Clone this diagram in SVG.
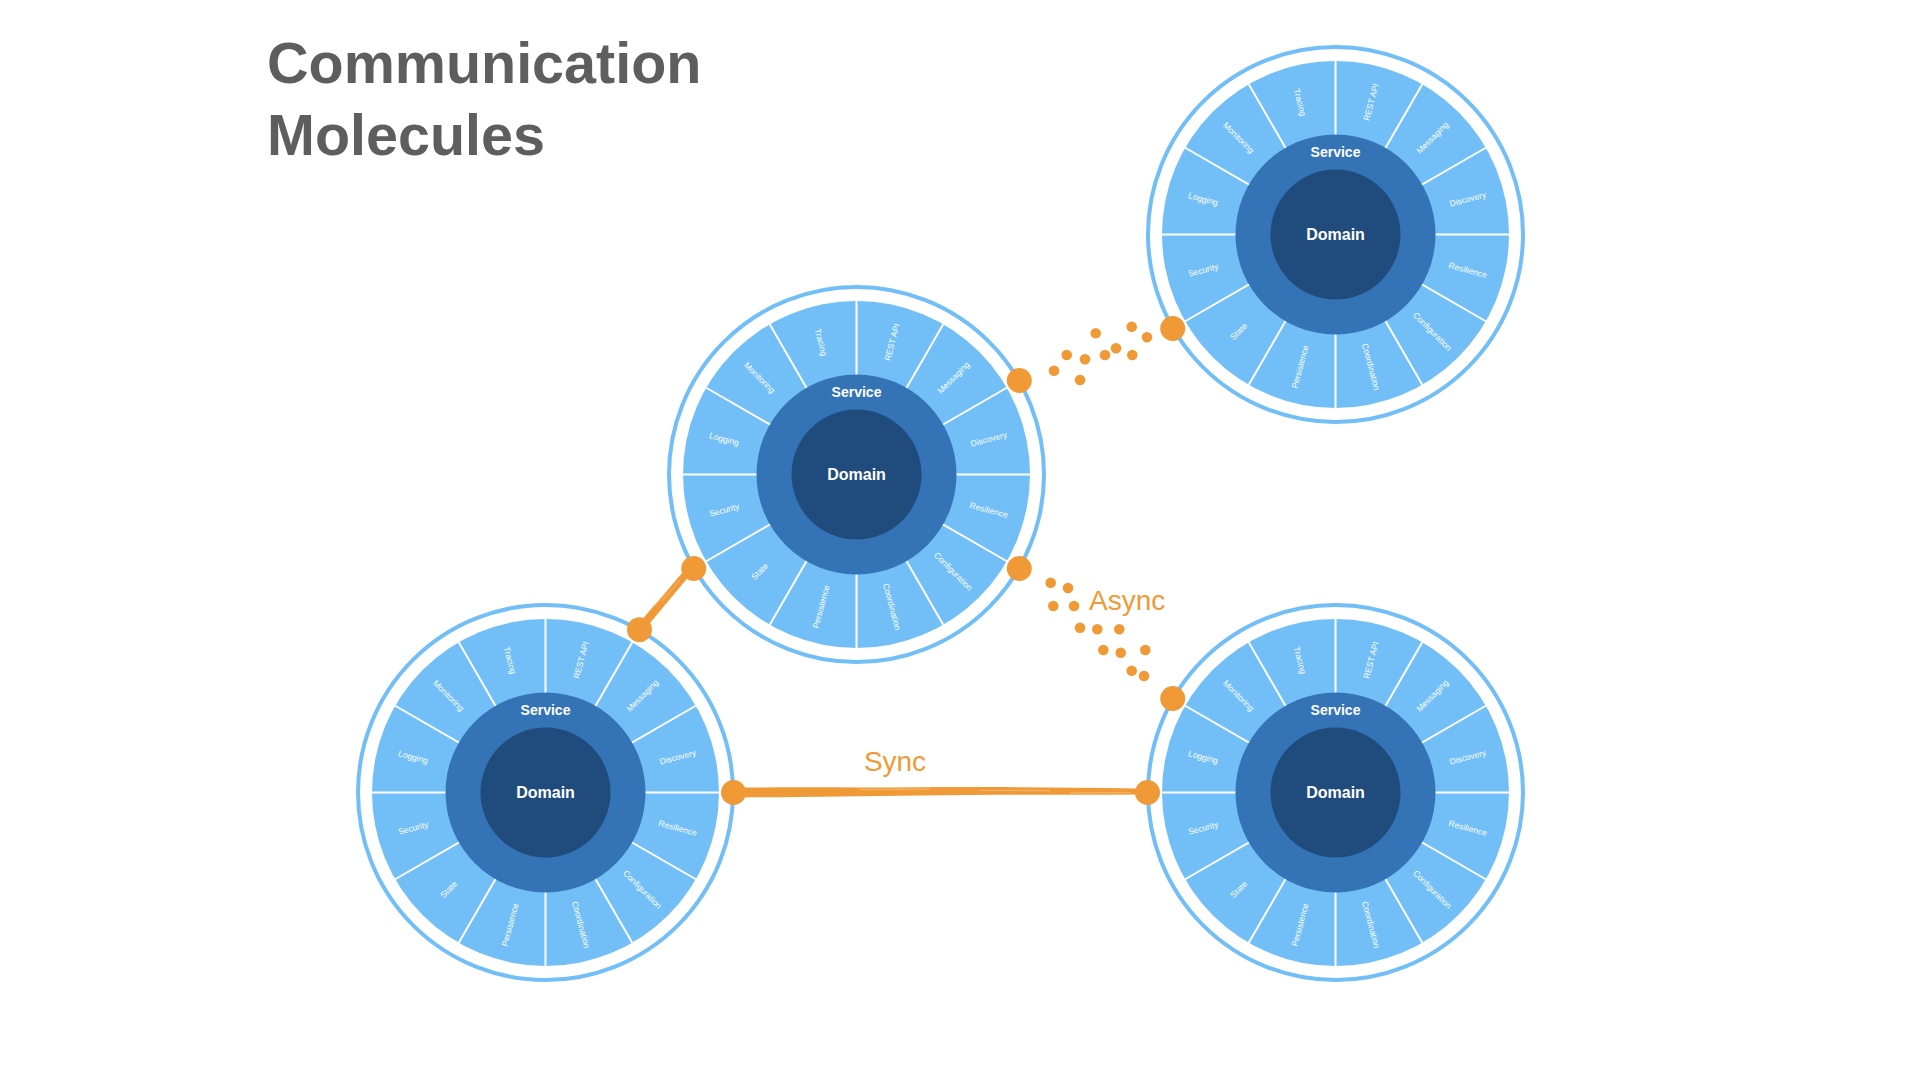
<svg xmlns="http://www.w3.org/2000/svg" width="1920" height="1080" viewBox="0 0 1920 1080">
<style>
.ring{fill:none;stroke:#72BEF7;stroke-width:4}
.seg{fill:#72BEF7}
.div line{stroke:#fff;stroke-width:2}
.svc{fill:#3473B5}
.dom{fill:#1F4C7D}
.lbl{font-family:"Liberation Sans",Arial,sans-serif;font-size:8.5px;fill:#fff;text-anchor:middle;dominant-baseline:central}
.svct{font-family:"Liberation Sans",Arial,sans-serif;font-weight:bold;font-size:14px;fill:#fff;text-anchor:middle}
.domt{font-family:"Liberation Sans",Arial,sans-serif;font-weight:bold;font-size:16px;fill:#fff;text-anchor:middle}
.title{font-family:"Liberation Sans",Arial,sans-serif;font-weight:bold;font-size:57.5px;fill:#5E5E5E}
.clbl{font-family:"Liberation Sans",Arial,sans-serif;font-size:28px;fill:#F09A37}
.dot{fill:#F09A37}
.brush{fill:#F09A37}
.streak{fill:none;stroke:#fff;stroke-width:0.6;opacity:0.5}
</style>
<rect width="1920" height="1080" fill="#fff"/>
<g id="title">
<text class="title" x="267" y="83">Communication</text>
<text class="title" x="267" y="155">Molecules</text>
</g>

<g id="molecule-center" transform="translate(856.5 474.5)">
<circle class="ring" r="187.5"/>
<circle class="seg" r="173.5"/>
<g class="div">
<line x1="-173.5" y1="0" x2="173.5" y2="0"/>
<line x1="0" y1="-173.5" x2="0" y2="173.5"/>
<line x1="-150.3" y1="-86.75" x2="150.3" y2="86.75"/>
<line x1="-150.3" y1="86.75" x2="150.3" y2="-86.75"/>
<line x1="-86.75" y1="-150.3" x2="86.75" y2="150.3"/>
<line x1="-86.75" y1="150.3" x2="86.75" y2="-150.3"/>
</g>
<circle class="svc" r="100"/>
<circle class="dom" r="65"/>
<text class="svct" y="-78">Service</text>
<text class="domt" y="5.7">Domain</text>
<text class="lbl" transform="translate(35.5 -132.3) rotate(-75)">REST API</text>
<text class="lbl" transform="translate(96.9 -96.9) rotate(-45)">Messaging</text>
<text class="lbl" transform="translate(132.3 -35.5) rotate(-15)">Discovery</text>
<text class="lbl" transform="translate(132.3 35.5) rotate(15)">Resilience</text>
<text class="lbl" transform="translate(96.9 96.9) rotate(45)">Configuration</text>
<text class="lbl" transform="translate(35.5 132.3) rotate(75)">Coordination</text>
<text class="lbl" transform="translate(-35.5 132.3) rotate(-75)">Persistence</text>
<text class="lbl" transform="translate(-96.9 96.9) rotate(-45)">State</text>
<text class="lbl" transform="translate(-132.3 35.5) rotate(-15)">Security</text>
<text class="lbl" transform="translate(-132.3 -35.5) rotate(15)">Logging</text>
<text class="lbl" transform="translate(-96.9 -96.9) rotate(45)">Monitoring</text>
<text class="lbl" transform="translate(-35.5 -132.3) rotate(75)">Tracing</text>
</g>

<g id="molecule-top-right" transform="translate(1335.5 234.5)">
<circle class="ring" r="187.5"/>
<circle class="seg" r="173.5"/>
<g class="div">
<line x1="-173.5" y1="0" x2="173.5" y2="0"/>
<line x1="0" y1="-173.5" x2="0" y2="173.5"/>
<line x1="-150.3" y1="-86.75" x2="150.3" y2="86.75"/>
<line x1="-150.3" y1="86.75" x2="150.3" y2="-86.75"/>
<line x1="-86.75" y1="-150.3" x2="86.75" y2="150.3"/>
<line x1="-86.75" y1="150.3" x2="86.75" y2="-150.3"/>
</g>
<circle class="svc" r="100"/>
<circle class="dom" r="65"/>
<text class="svct" y="-78">Service</text>
<text class="domt" y="5.7">Domain</text>
<text class="lbl" transform="translate(35.5 -132.3) rotate(-75)">REST API</text>
<text class="lbl" transform="translate(96.9 -96.9) rotate(-45)">Messaging</text>
<text class="lbl" transform="translate(132.3 -35.5) rotate(-15)">Discovery</text>
<text class="lbl" transform="translate(132.3 35.5) rotate(15)">Resilience</text>
<text class="lbl" transform="translate(96.9 96.9) rotate(45)">Configuration</text>
<text class="lbl" transform="translate(35.5 132.3) rotate(75)">Coordination</text>
<text class="lbl" transform="translate(-35.5 132.3) rotate(-75)">Persistence</text>
<text class="lbl" transform="translate(-96.9 96.9) rotate(-45)">State</text>
<text class="lbl" transform="translate(-132.3 35.5) rotate(-15)">Security</text>
<text class="lbl" transform="translate(-132.3 -35.5) rotate(15)">Logging</text>
<text class="lbl" transform="translate(-96.9 -96.9) rotate(45)">Monitoring</text>
<text class="lbl" transform="translate(-35.5 -132.3) rotate(75)">Tracing</text>
</g>

<g id="molecule-bottom-left" transform="translate(545.5 792.5)">
<circle class="ring" r="187.5"/>
<circle class="seg" r="173.5"/>
<g class="div">
<line x1="-173.5" y1="0" x2="173.5" y2="0"/>
<line x1="0" y1="-173.5" x2="0" y2="173.5"/>
<line x1="-150.3" y1="-86.75" x2="150.3" y2="86.75"/>
<line x1="-150.3" y1="86.75" x2="150.3" y2="-86.75"/>
<line x1="-86.75" y1="-150.3" x2="86.75" y2="150.3"/>
<line x1="-86.75" y1="150.3" x2="86.75" y2="-150.3"/>
</g>
<circle class="svc" r="100"/>
<circle class="dom" r="65"/>
<text class="svct" y="-78">Service</text>
<text class="domt" y="5.7">Domain</text>
<text class="lbl" transform="translate(35.5 -132.3) rotate(-75)">REST API</text>
<text class="lbl" transform="translate(96.9 -96.9) rotate(-45)">Messaging</text>
<text class="lbl" transform="translate(132.3 -35.5) rotate(-15)">Discovery</text>
<text class="lbl" transform="translate(132.3 35.5) rotate(15)">Resilience</text>
<text class="lbl" transform="translate(96.9 96.9) rotate(45)">Configuration</text>
<text class="lbl" transform="translate(35.5 132.3) rotate(75)">Coordination</text>
<text class="lbl" transform="translate(-35.5 132.3) rotate(-75)">Persistence</text>
<text class="lbl" transform="translate(-96.9 96.9) rotate(-45)">State</text>
<text class="lbl" transform="translate(-132.3 35.5) rotate(-15)">Security</text>
<text class="lbl" transform="translate(-132.3 -35.5) rotate(15)">Logging</text>
<text class="lbl" transform="translate(-96.9 -96.9) rotate(45)">Monitoring</text>
<text class="lbl" transform="translate(-35.5 -132.3) rotate(75)">Tracing</text>
</g>

<g id="molecule-bottom-right" transform="translate(1335.5 792.5)">
<circle class="ring" r="187.5"/>
<circle class="seg" r="173.5"/>
<g class="div">
<line x1="-173.5" y1="0" x2="173.5" y2="0"/>
<line x1="0" y1="-173.5" x2="0" y2="173.5"/>
<line x1="-150.3" y1="-86.75" x2="150.3" y2="86.75"/>
<line x1="-150.3" y1="86.75" x2="150.3" y2="-86.75"/>
<line x1="-86.75" y1="-150.3" x2="86.75" y2="150.3"/>
<line x1="-86.75" y1="150.3" x2="86.75" y2="-150.3"/>
</g>
<circle class="svc" r="100"/>
<circle class="dom" r="65"/>
<text class="svct" y="-78">Service</text>
<text class="domt" y="5.7">Domain</text>
<text class="lbl" transform="translate(35.5 -132.3) rotate(-75)">REST API</text>
<text class="lbl" transform="translate(96.9 -96.9) rotate(-45)">Messaging</text>
<text class="lbl" transform="translate(132.3 -35.5) rotate(-15)">Discovery</text>
<text class="lbl" transform="translate(132.3 35.5) rotate(15)">Resilience</text>
<text class="lbl" transform="translate(96.9 96.9) rotate(45)">Configuration</text>
<text class="lbl" transform="translate(35.5 132.3) rotate(75)">Coordination</text>
<text class="lbl" transform="translate(-35.5 132.3) rotate(-75)">Persistence</text>
<text class="lbl" transform="translate(-96.9 96.9) rotate(-45)">State</text>
<text class="lbl" transform="translate(-132.3 35.5) rotate(-15)">Security</text>
<text class="lbl" transform="translate(-132.3 -35.5) rotate(15)">Logging</text>
<text class="lbl" transform="translate(-96.9 -96.9) rotate(45)">Monitoring</text>
<text class="lbl" transform="translate(-35.5 -132.3) rotate(75)">Tracing</text>
</g>

<g id="connectors">
<g id="sync-link">
<path class="brush" d="M744,787.6 C800,787.0 860,787.8 920,787.2 C1000,786.8 1070,787.8 1136,788.4 L1136,794.4 C1070,795.0 1000,794.4 920,795.6 C860,796.2 800,797.4 744,797.4 Z"/>
<path class="streak" d="M860,789.6 L930,789.2 M980,790.4 L1050,790.8 M1070,793.1 L1130,792.6"/>
<circle class="dot" cx="733.5" cy="792.5" r="12.5"/>
<circle class="dot" cx="1147.5" cy="792.5" r="12.5"/>
<text class="clbl" x="895" y="771" text-anchor="middle">Sync</text>
</g>
<g id="brush-link">
<path class="brush" d="M689,565 L695,569 L643,631.5 L636,626.5 Z"/>
<path class="streak" d="M680,580 L662,601 M671,586 L655,606"/>
<circle class="dot" cx="693.7" cy="568.5" r="12.5"/>
<circle class="dot" cx="639.5" cy="629.7" r="12.5"/>
</g>
<g id="async-link-top">
<circle class="dot" cx="1095.7" cy="333.3" r="5.3"/>
<circle class="dot" cx="1131.7" cy="326.7" r="5.3"/>
<circle class="dot" cx="1147" cy="337.3" r="5.3"/>
<circle class="dot" cx="1066.7" cy="355" r="5.3"/>
<circle class="dot" cx="1085" cy="359.3" r="5.3"/>
<circle class="dot" cx="1105" cy="355" r="5.3"/>
<circle class="dot" cx="1116" cy="348.3" r="5.3"/>
<circle class="dot" cx="1132.3" cy="355" r="5.3"/>
<circle class="dot" cx="1054" cy="370.7" r="5.3"/>
<circle class="dot" cx="1080" cy="380" r="5.3"/>
<circle class="dot" cx="1019.3" cy="380.5" r="12.5"/>
<circle class="dot" cx="1172.7" cy="328.5" r="12.5"/>
</g>
<g id="async-link-bottom">
<circle class="dot" cx="1050.7" cy="582.7" r="5.3"/>
<circle class="dot" cx="1068" cy="588" r="5.3"/>
<circle class="dot" cx="1053.3" cy="606" r="5.3"/>
<circle class="dot" cx="1074" cy="606" r="5.3"/>
<circle class="dot" cx="1080" cy="627.7" r="5.3"/>
<circle class="dot" cx="1097.3" cy="629.3" r="5.3"/>
<circle class="dot" cx="1119.3" cy="629.3" r="5.3"/>
<circle class="dot" cx="1103.3" cy="650" r="5.3"/>
<circle class="dot" cx="1120.7" cy="652.7" r="5.3"/>
<circle class="dot" cx="1145.3" cy="650" r="5.3"/>
<circle class="dot" cx="1131.7" cy="670.7" r="5.3"/>
<circle class="dot" cx="1144" cy="676" r="5.3"/>
<circle class="dot" cx="1019.3" cy="568.5" r="12.5"/>
<circle class="dot" cx="1172.7" cy="698.5" r="12.5"/>
<text class="clbl" x="1089" y="610">Async</text>
</g>
</g>
</svg>
